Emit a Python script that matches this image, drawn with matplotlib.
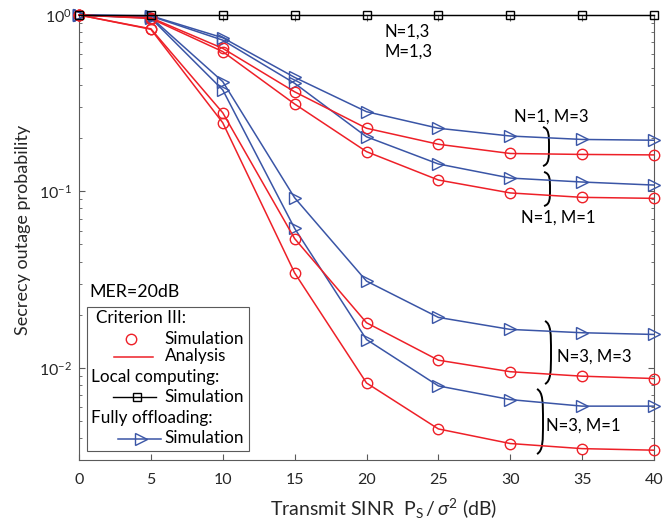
import numpy as np
import matplotlib
matplotlib.use("Agg")
from matplotlib import pyplot as plt
from matplotlib.path import Path
from matplotlib.patches import PathPatch, Rectangle
from matplotlib.lines import Line2D

plt.rcParams['font.family'] = ['Lato', 'DejaVu Sans']
plt.rcParams['mathtext.fontset'] = 'custom'
plt.rcParams['mathtext.rm'] = 'Lato'
plt.rcParams['mathtext.it'] = 'Lato:italic'

# transmit SINR (dB)
snr = [0, 5, 10, 15, 20, 25, 30, 35, 40]

# fully offloading, simulation
blue_n1_m3 = [1, 0.99, 0.743, 0.443, 0.283, 0.228, 0.206, 0.197, 0.195]
blue_n1_m1 = [1, 0.985, 0.72, 0.41, 0.204, 0.143, 0.119, 0.113, 0.1086]
blue_n3_m3 = [1, 0.97, 0.419, 0.092, 0.031, 0.0193, 0.0165, 0.0158, 0.01545]
blue_n3_m1 = [1, 0.96, 0.376, 0.0617, 0.01446, 0.00789, 0.0066, 0.00606, 0.00606]

# criterion III (simulation = analysis)
red_n1_m3 = [1, 0.965, 0.647, 0.367, 0.228, 0.185, 0.164, 0.162, 0.161]
red_n1_m1 = [1, 0.955, 0.62, 0.313, 0.168, 0.116, 0.098, 0.0925, 0.0913]
red_n3_m3 = [1, 0.835, 0.279, 0.054, 0.018, 0.01104, 0.0095, 0.00896, 0.00869]
red_n3_m1 = [1, 0.83, 0.245, 0.0345, 0.0082, 0.0045, 0.00372, 0.00348, 0.00341]

# local computing
local = [1, 1, 1, 1, 1, 1, 1, 1, 1]

RED = '#ee2028'
BLUE = '#3a55a6'
AX = '#5a5a5a'
TXT = '#262626'

fig = plt.figure(figsize=(6.7, 5.31), dpi=100)
W, H = 670.0, 531.0
L, R, T, B = 79, 654, 15, 460
ax = fig.add_axes([L / W, 1 - B / H, (R - L) / W, (B - T) / H])

def fx(px):
    return (px - L) / (R - L)

def fy(py):
    return (B - py) / (B - T)

for s in [blue_n1_m3, blue_n1_m1, blue_n3_m3, blue_n3_m1]:
    ax.plot(snr, s, color=BLUE, lw=1.1, marker='>', ms=8.5, mfc='none', mew=1.0, clip_on=False, zorder=3)
for s in [red_n1_m3, red_n1_m1, red_n3_m3, red_n3_m1]:
    ax.plot(snr, s, color=RED, lw=1.1, marker='o', ms=7.5, mfc='none', mew=1.0, clip_on=False, zorder=4)
ax.plot(snr, local, color='k', lw=1.0, marker='s', ms=5.5, mfc='none', mew=1.0, clip_on=False, zorder=5)

ax.set_yscale('log')
ax.set_xlim(0, 40)
ax.set_ylim(3e-3, 1)
ax.set_xticks(snr)
ax.set_yticks([1e-2, 1e-1, 1])
for sp in ax.spines.values():
    sp.set_color(AX)
    sp.set_linewidth(0.8)
ax.tick_params(which='both', direction='in', top=True, right=True, color=AX,
               labelcolor=TXT, labelsize=11.5)
ax.tick_params(which='major', length=4)
ax.tick_params(which='minor', length=2.5)
ax.tick_params(axis='x', pad=9)
ax.tick_params(axis='y', pad=5)

ax.set_xlabel(r'Transmit SINR  $\mathrm{P}_\mathrm{S}\,/\,\sigma^2$ (dB)', fontsize=14, color=TXT)
ax.xaxis.set_label_coords(fx(384), fy(497))
ax.set_ylabel('Secrecy outage probability', fontsize=13, color=TXT)
ax.yaxis.set_label_coords(fx(31), fy(230))

# curve annotations
fs = 12
ax.text(fx(385), fy(32), 'N=1,3', transform=ax.transAxes, fontsize=fs, va='center', color='k')
ax.text(fx(385), fy(52), 'M=1,3', transform=ax.transAxes, fontsize=fs, va='center', color='k')
ax.text(fx(514), fy(117), 'N=1, M=3', transform=ax.transAxes, fontsize=fs, va='center', color='k')
ax.text(fx(521), fy(218), 'N=1, M=1', transform=ax.transAxes, fontsize=fs, va='center', color='k')
ax.text(fx(557), fy(357), 'N=3, M=3', transform=ax.transAxes, fontsize=fs, va='center', color='k')
ax.text(fx(546), fy(426), 'N=3, M=1', transform=ax.transAxes, fontsize=fs, va='center', color='k')

def brace(x0, x1, y0, y1):
    # right-parenthesis style brace, pixel coords -> axes fraction
    h = y1 - y0
    pts = [(x0, y0), (x1, y0 + 0.05 * h), (x1, y0 + 0.2 * h), (x1, y0 + 0.5 * h),
           (x1, y0 + 0.8 * h), (x1, y0 + 0.95 * h), (x0, y1)]
    codes = [Path.MOVETO] + [Path.CURVE4] * 6
    p = Path([(fx(a), fy(b)) for a, b in pts], codes)
    ax.add_patch(PathPatch(p, fc='none', ec='k', lw=1.4, transform=ax.transAxes, clip_on=False))

brace(543, 549, 127, 166)
brace(544, 550, 172, 206)
brace(545, 551, 321, 384)
brace(537, 543, 389, 454)

# legend drawn by hand
ax.text(fx(89), fy(292), 'MER=20dB', transform=ax.transAxes, fontsize=12.8, va='center', color='k')
ax.add_patch(Rectangle((fx(87), fy(451)), fx(249) - fx(87), fy(307) - fy(451), transform=ax.transAxes,
                       fc='white', ec=AX, lw=0.8, zorder=6))
lfs = 12.3
def ltext(px, py, s):
    ax.text(fx(px), fy(py), s, transform=ax.transAxes, fontsize=lfs, va='center', color='k', zorder=7)

ltext(96, 318, 'Criterion III:')
ax.add_line(Line2D([fx(131)], [fy(339)], transform=ax.transAxes, marker='o', ms=7.5, mfc='none',
                   mec=RED, mew=1.0, ls='none', zorder=7))
ltext(164, 339, 'Simulation')
ax.add_line(Line2D([fx(114), fx(153)], [fy(357), fy(357)], transform=ax.transAxes, color=RED, lw=1.1, zorder=7))
ltext(165, 356, 'Analysis')
ltext(91, 377, 'Local computing:')
ax.add_line(Line2D([fx(113), fx(156)], [fy(397), fy(397)], transform=ax.transAxes, color='k', lw=1.0, zorder=7))
ax.add_line(Line2D([fx(137)], [fy(397)], transform=ax.transAxes, marker='s', ms=5.5, mfc='none',
                   mec='k', mew=1.0, ls='none', zorder=7))
ltext(164, 397, 'Simulation')
ltext(91, 418, 'Fully offloading:')
ax.add_line(Line2D([fx(118), fx(161)], [fy(439), fy(439)], transform=ax.transAxes, color=BLUE, lw=1.1, zorder=7))
ax.add_line(Line2D([fx(141)], [fy(439)], transform=ax.transAxes, marker='>', ms=8.5, mfc='none',
                   mec=BLUE, mew=1.0, ls='none', zorder=7))
ltext(164, 438, 'Simulation')

fig.savefig('out.png', dpi=100)
